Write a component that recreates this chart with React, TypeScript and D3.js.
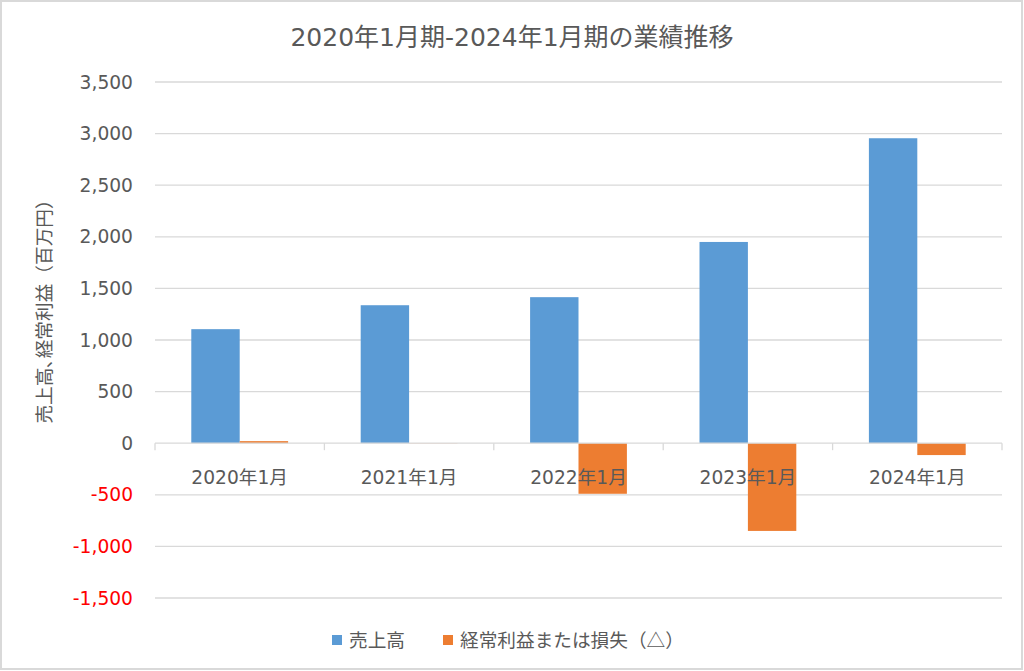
import React, { useEffect, useRef } from 'react';
import * as d3 from 'd3';

const categories = ['2020年1月', '2021年1月', '2022年1月', '2023年1月', '2024年1月'];
const sales = [1105, 1337, 1415, 1950, 2955];
const ordinaryProfit = [20, -2, -490, -850, -115];
const yTicks = [3500, 3000, 2500, 2000, 1500, 1000, 500, 0, -500, -1000, -1500];
const seriesNames = ['売上高', '経常利益または損失（△）'];
const seriesColors = ['#5b9bd5', '#ed7d31'];

const FONT = '"DejaVu Sans", "Noto Sans CJK JP", sans-serif';
const CJK = '"Noto Sans CJK JP", sans-serif';

const App: React.FC = () => {
  const svgRef = useRef<SVGSVGElement>(null);

  useEffect(() => {
    if (!svgRef.current) return;
    const width = 1024;
    const height = 671;
    const margin = { top: 82, right: 22, bottom: 73, left: 155 };

    d3.select(svgRef.current).selectAll('*').remove();
    const root = d3.select(svgRef.current).attr('width', width).attr('height', height);

    // chart area border
    root
      .append('rect')
      .attr('x', 1)
      .attr('y', 1)
      .attr('width', width - 3)
      .attr('height', height - 3)
      .attr('fill', '#fff')
      .attr('stroke', '#d9d9d9')
      .attr('stroke-width', 2);

    const innerW = width - margin.left - margin.right;
    const innerH = height - margin.top - margin.bottom;

    const x = d3.scaleBand<string>().domain(categories).range([0, innerW]);
    const y = d3.scaleLinear().domain([-1500, 3500]).range([innerH, 0]);

    const g = root.append('g').attr('transform', `translate(${margin.left}, ${margin.top})`);

    // gridlines
    g.append('g')
      .selectAll('line')
      .data(yTicks.filter((t) => t !== 0))
      .join('line')
      .attr('x1', 0)
      .attr('x2', innerW)
      .attr('y1', (d) => y(d))
      .attr('y2', (d) => y(d))
      .attr('stroke', '#d9d9d9')
      .attr('stroke-width', 1.3);

    // y tick labels (plain hyphen for negatives, like Excel)
    const fmt = d3.format(',');
    g.append('g')
      .selectAll('text')
      .data(yTicks)
      .join('text')
      .attr('x', -22)
      .attr('y', (d) => y(d))
      .attr('dy', '0.35em')
      .attr('text-anchor', 'end')
      .attr('font-family', FONT)
      .attr('font-size', 18.67)
      .attr('fill', (d) => (d < 0 ? '#ff0000' : '#595959'))
      .text((d) => fmt(d).replace('\u2212', '-'));

    // bars
    const bw = x.bandwidth() / 3.5;
    const offset = (x.bandwidth() - 2 * bw) / 2;
    [sales, ordinaryProfit].forEach((vals, si) => {
      g.append('g')
        .selectAll('rect')
        .data(vals)
        .join('rect')
        .attr('x', (_d, i) => (x(categories[i]) as number) + offset + si * bw)
        .attr('y', (d) => y(Math.max(0, d)))
        .attr('width', bw)
        .attr('height', (d) => Math.abs(y(d) - y(0)))
        .attr('fill', seriesColors[si]);
    });

    // zero axis with ticks
    g.append('line')
      .attr('x1', 0)
      .attr('x2', innerW)
      .attr('y1', y(0))
      .attr('y2', y(0))
      .attr('stroke', '#d9d9d9')
      .attr('stroke-width', 1.3);
    g.append('g')
      .selectAll('line')
      .data(d3.range(categories.length + 1))
      .join('line')
      .attr('x1', (i) => i * x.step())
      .attr('x2', (i) => i * x.step())
      .attr('y1', y(0))
      .attr('y2', y(0) + 7)
      .attr('stroke', '#d9d9d9')
      .attr('stroke-width', 1.3);

    // category labels
    g.append('g')
      .selectAll('text')
      .data(categories)
      .join('text')
      .attr('x', (d) => (x(d) as number) + x.bandwidth() / 2)
      .attr('y', y(0) + 34)
      .attr('dy', '0.35em')
      .attr('text-anchor', 'middle')
      .attr('font-family', FONT)
      .attr('font-size', 18.67)
      .attr('fill', '#595959')
      .text((d) => d);

    // title
    root
      .append('text')
      .attr('x', 512)
      .attr('y', 37)
      .attr('dy', '0.35em')
      .attr('text-anchor', 'middle')
      .attr('font-family', FONT)
      .attr('font-size', 25)
      .attr('fill', '#595959')
      .text('2020年1月期-2024年1月期の業績推移');

    // y axis title
    root
      .append('text')
      .attr('transform', `translate(51, 307) rotate(-90)`)
      .attr('text-anchor', 'middle')
      .attr('font-family', CJK)
      .attr('font-size', 18.67)
      .attr('fill', '#595959')
      .text('売上高､経常利益（百万円）');

    // legend
    const legend = root.append('g').attr('transform', 'translate(332, 640)');
    const legendX = [0, 111];
    seriesNames.forEach((name, i) => {
      legend
        .append('rect')
        .attr('x', legendX[i])
        .attr('y', -5)
        .attr('width', 10)
        .attr('height', 10)
        .attr('fill', seriesColors[i]);
      legend
        .append('text')
        .attr('x', legendX[i] + 17)
        .attr('y', 0)
        .attr('dy', '0.35em')
        .attr('font-family', CJK)
        .attr('font-size', 18.67)
        .attr('fill', '#595959')
        .text(name);
    });
  }, []);

  return (
    <div style={{ position: 'fixed', left: 0, top: 0 }}>
      <svg ref={svgRef} style={{ display: 'block' }}></svg>
    </div>
  );
};

export default App;
